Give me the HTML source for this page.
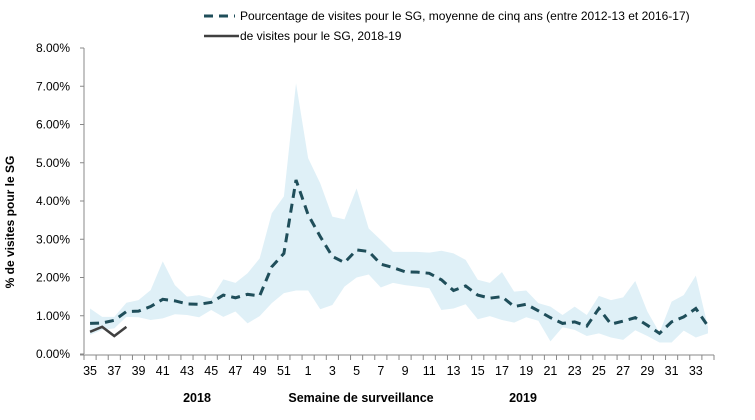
<!DOCTYPE html>
<html><head><meta charset="utf-8"><style>
body{margin:0;background:#fff;font-family:"Liberation Sans",Arial,sans-serif;}
svg text{font-family:"Liberation Sans",Arial,sans-serif;}
</style></head><body>
<svg id="chart" width="755" height="415" xmlns="http://www.w3.org/2000/svg">
</svg>
<script>
const categories=[35,36,37,38,39,40,41,42,43,44,45,46,47,48,49,50,51,52,1,2,3,4,5,6,7,8,9,10,11,12,13,14,15,16,17,18,19,20,21,22,23,24,25,26,27,28,29,30,31,32,33,34];
const meanValues=[0.80,0.81,0.88,1.11,1.12,1.24,1.43,1.39,1.31,1.30,1.35,1.54,1.47,1.56,1.52,2.28,2.63,4.55,3.64,3.07,2.55,2.39,2.72,2.68,2.35,2.26,2.15,2.14,2.11,1.94,1.66,1.78,1.54,1.46,1.50,1.24,1.30,1.13,0.95,0.80,0.84,0.73,1.19,0.78,0.86,0.95,0.75,0.54,0.84,0.97,1.19,0.73];
const upperValues=[1.19,0.97,0.97,1.34,1.41,1.67,2.42,1.80,1.50,1.54,1.45,1.95,1.86,2.11,2.50,3.68,4.12,7.08,5.12,4.46,3.59,3.52,4.33,3.28,2.98,2.67,2.67,2.67,2.65,2.70,2.63,2.46,1.94,1.86,2.14,1.63,1.66,1.33,1.24,1.02,1.24,1.02,1.52,1.41,1.48,1.91,1.11,0.56,1.37,1.54,2.05,0.71];
const lowerValues=[0.50,0.63,0.67,0.97,0.96,0.89,0.93,1.04,1.02,0.96,1.15,0.97,1.11,0.80,0.99,1.33,1.59,1.66,1.66,1.17,1.28,1.76,2.00,2.08,1.74,1.86,1.80,1.76,1.72,1.15,1.19,1.30,0.91,0.99,0.89,0.82,0.96,0.87,0.33,0.70,0.63,0.47,0.54,0.43,0.37,0.62,0.47,0.30,0.30,0.61,0.43,0.54];
const currentValues=[0.58,0.71,0.47,0.71];
const yTicks=[0,1,2,3,4,5,6,7,8];

const svg=document.getElementById('chart');
const NS='http://www.w3.org/2000/svg';
const X0=84,X1=714,Y0=354,YTOP=48;
const bw=(X1-X0)/categories.length;
function xs(i){return X0+bw*(i+0.5);}
function ys(v){return Y0-(Y0-YTOP)*v/8;}
function mk(tag,attrs,txt){const e=document.createElementNS(NS,tag);for(const k in attrs)e.setAttribute(k,attrs[k]);if(txt!==undefined)e.textContent=txt;svg.appendChild(e);return e;}

let d='M'+upperValues.map((v,i)=>xs(i)+','+ys(v)).join('L');
for(let i=lowerValues.length-1;i>=0;i--)d+='L'+xs(i)+','+ys(lowerValues[i]);
d+='Z';
const band=mk('path',{d:d,fill:'#dff0f7'});



const ya=mk('line',{x1:X0,y1:YTOP,x2:X0,y2:Y0,stroke:'#888','stroke-width':1});


const xa=mk('line',{x1:X0-4,y1:Y0+1,x2:X1,y2:Y0+1,stroke:'#888','stroke-width':1});


yTicks.forEach(t=>{
  mk('line',{x1:X0-4,y1:ys(t),x2:X0,y2:ys(t),stroke:'#888'});
  const lb=mk('text',{x:X0-14,y:ys(t)+4,'text-anchor':'end','font-size':12,fill:'#000'},t.toFixed(2)+'%');
  
  
});
for(let i=0;i<=categories.length;i++){
  mk('line',{x1:X0+bw*i,y1:Y0+1,x2:X0+bw*i,y2:Y0+6,stroke:'#888'});
}
categories.forEach((c,i)=>{
  if(i%2===0){
    const lb=mk('text',{x:xs(i),y:375,'text-anchor':'middle','font-size':12.5,fill:'#000'},String(c));
    
    
  }
});

const ml=mk('polyline',{points:meanValues.map((v,i)=>xs(i)+','+ys(v)).join(' '),fill:'none',stroke:'#1f4e5a','stroke-width':3,'stroke-dasharray':'9,6'});


const cl=mk('polyline',{points:currentValues.map((v,i)=>xs(i)+','+ys(v)).join(' '),fill:'none',stroke:'#404040','stroke-width':2.5});



const yt=mk('text',{x:0,y:0,transform:'translate(14,222) rotate(-90)','text-anchor':'middle','font-size':12,'font-weight':'bold'},'% de visites pour le SG');


const xt=mk('text',{x:361,y:402,'text-anchor':'middle','font-size':12.5,'font-weight':'bold'},'Semaine de surveillance');


const y1=mk('text',{x:197,y:402,'text-anchor':'middle','font-size':12.5,'font-weight':'bold'},'2018');


const y2=mk('text',{x:523,y:402,'text-anchor':'middle','font-size':12.5,'font-weight':'bold'},'2019');



const l1=mk('line',{x1:204,y1:16,x2:235,y2:16,stroke:'#1f4e5a','stroke-width':3,'stroke-dasharray':'9,6'});


const t1=mk('text',{x:240,y:20,'font-size':12},'Pourcentage de visites pour le SG, moyenne de cinq ans (entre 2012-13 et 2016-17)');


const l2=mk('line',{x1:204,y1:36,x2:239,y2:36,stroke:'#404040','stroke-width':2.5});


const t2=mk('text',{x:240,y:40,'font-size':12},'de visites pour le SG, 2018-19');


</script>
</body></html>
